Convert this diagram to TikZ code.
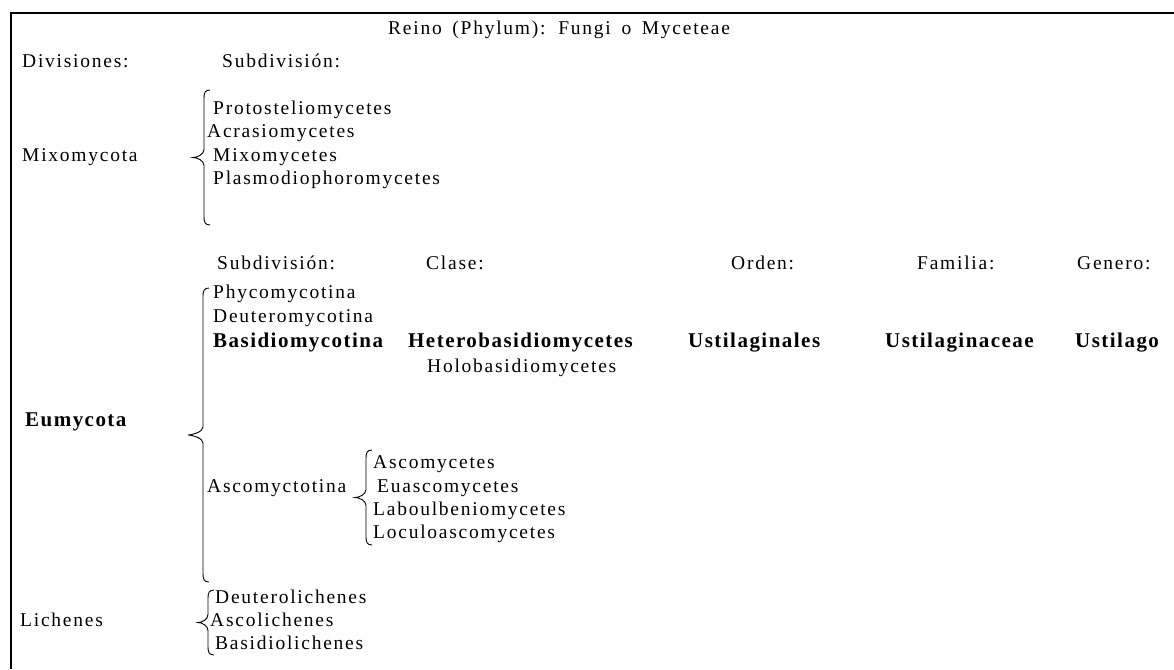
\documentclass[tikz,border=0pt]{standalone}
\usepackage{fontspec}
\setmainfont{Liberation Serif}[LetterSpace=9,WordSpace=1.6,BoldFont={Liberation Serif Bold},BoldFeatures={LetterSpace=7,WordSpace=1.5}]
\tikzset{
  lbl/.style={anchor=base west, inner sep=0pt, font=\fontsize{19.5}{24}\selectfont},
  blbl/.style={lbl, font=\fontsize{21}{24}\selectfont\bfseries},
  brc/.style={line width=0.9pt},
  frame/.style={line width=2.6pt}
}
% #1 vertical x, #2 top y, #3 bottom y, #4 tip x
\newcommand\fbrace[4]{%
  \draw[brc] ({#1+6},#2) .. controls ({#1+1},#2) and (#1,{#2+3}) .. (#1,{#2+8})
    -- (#1,{(#2+#3)/2-8}) .. controls (#1,{(#2+#3)/2-3}) and ({#4+4},{(#2+#3)/2}) .. (#4,{(#2+#3)/2})
    .. controls ({#4+4},{(#2+#3)/2}) and (#1,{(#2+#3)/2+3}) .. (#1,{(#2+#3)/2+8})
    -- (#1,{#3-8}) .. controls (#1,{#3-3}) and ({#1+1},#3) .. ({#1+6},#3);}
\begin{document}
\begin{tikzpicture}[x=1pt,y=-1pt]
\useasboundingbox (0,0) rectangle (1174,669);
\fill[white] (0,0) rectangle (1174,669);
% frame
\coordinate (fTL) at (11,13);
\coordinate (fTR) at (1174,13);
\coordinate (fBL) at (11,669);
\draw[frame] (fBL) -- (fTL) -- (fTR);

\node[lbl] (reino) at (388,35) {Reino (Phylum): Fungi o Myceteae};
\node[lbl] (div) at (22,67) {Divisiones:};
\node[lbl] (subdiv1) at (222,67) {Subdivisión:};

% Mixomycota
\node[lbl] (mixo) at (22,161) {Mixomycota};
\fbrace{204}{90}{225}{193}
\node[lbl] (proto) at (213,114) {Protosteliomycetes};
\node[lbl] (acra) at (207,137) {Acrasiomycetes};
\node[lbl] (mixm) at (213,161) {Mixomycetes};
\node[lbl] (plas) at (213,184) {Plasmodiophoromycetes};

% headers row 2
\node[lbl] (subdiv2) at (217,269) {Subdivisión:};
\node[lbl] (clase) at (426,269) {Clase:};
\node[lbl] (orden) at (731,269) {Orden:};
\node[lbl] (familia) at (917,269) {Familia:};
\node[lbl] (genero) at (1077,269) {Genero:};

% Eumycota
\node[blbl] (eumy) at (25,426) {Eumycota};
\fbrace{203}{288}{582}{188}
\node[lbl] (phyco) at (213,298) {Phycomycotina};
\node[lbl] (deut) at (213,322) {Deuteromycotina};
\node[blbl] (basid) at (213,347) {Basidiomycotina};
\node[blbl] (hetero) at (408,347) {Heterobasidiomycetes};
\node[lbl] (holo) at (427,372) {Holobasidiomycetes};
\node[blbl] (ustord) at (688,347) {Ustilaginales};
\node[blbl] (ustfam) at (885,347) {Ustilaginaceae};
\node[blbl] (ustgen) at (1075,347) {Ustilago};

\node[lbl] (ascot) at (207,492) {Ascomyctotina};
\fbrace{366}{450}{545}{355}
\node[lbl] (asco) at (373,468) {Ascomycetes};
\node[lbl] (euasco) at (377,492) {Euascomycetes};
\node[lbl] (labo) at (373,515) {Laboulbeniomycetes};
\node[lbl] (locu) at (373,538) {Loculoascomycetes};

% Lichenes
\node[lbl] (lich) at (20,626) {Lichenes};
\fbrace{208}{590}{655}{198}
\node[lbl] (deutl) at (215,603) {Deuterolichenes};
\node[lbl] (ascol) at (210,626) {Ascolichenes};
\node[lbl] (basl) at (215,649) {Basidiolichenes};
\end{tikzpicture}
\end{document}
